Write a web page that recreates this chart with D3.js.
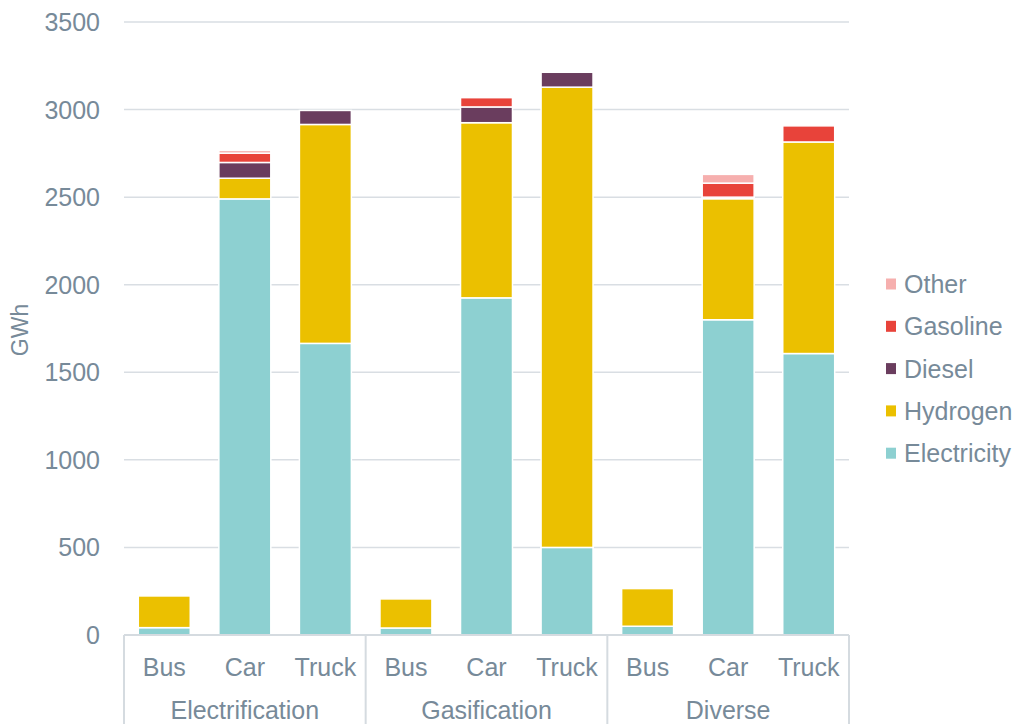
<!DOCTYPE html>
<html>
<head>
<meta charset="utf-8">
<script src="https://cdn.jsdelivr.net/npm/d3@7"></script>
<style>
  body { margin: 0; background: #fff; }
  svg { font-family: "Liberation Sans", Arial, sans-serif; }
  text { fill: #778A99; }
</style>
</head>
<body>
<svg></svg>
<script>
// scenarios and vehicle types
const groups = ["Electrification", "Gasification", "Diverse"];
const types = ["Bus", "Car", "Truck"];

// energy use per bar (GWh), order: group x type
const electricity = [42, 2490, 1665, 40, 1925, 500, 50, 1800, 1607];
const hydrogen = [181, 118, 1250, 166, 1000, 2628, 215, 691, 1208];
const diesel = [0, 90, 80, 0, 90, 85, 0, 9, 0];
const gasoline = [0, 53, 0, 0, 53, 0, 0, 80, 92];
const other = [0, 16, 0, 0, 0, 0, 0, 50, 0];

const yTicks = [0, 500, 1000, 1500, 2000, 2500, 3000, 3500];

const seriesNames = ["Electricity", "Hydrogen", "Diesel", "Gasoline", "Other"];
const colors = ["#8DD0D1", "#EBC000", "#6A3D5E", "#E8433A", "#F6AFAE"];

const rows = [];
groups.forEach((g, gi) => {
	types.forEach((t, ti) => {
		const i = gi * 3 + ti;
		rows.push({
			group: g,
			type: t,
			Electricity: electricity[i],
			Hydrogen: hydrogen[i],
			Diesel: diesel[i],
			Gasoline: gasoline[i],
			Other: other[i]
		});
	});
});

const svg = d3.select("svg").attr("width", 1017).attr("height", 724);

const plotLeft = 124, plotRight = 849, plotTop = 22, plotBottom = 635;

const y = d3.scaleLinear().domain([0, 3500]).range([plotBottom, plotTop]);
const xGroup = d3.scaleBand().domain(groups).range([plotLeft, plotRight]);
const xType = d3
	.scaleBand()
	.domain(types)
	.range([0, xGroup.bandwidth()])
	.paddingInner(0.355)
	.paddingOuter(0.1775);

// gridlines
svg
	.selectAll("line.grid")
	.data(yTicks.filter((d) => d > 0))
	.enter()
	.append("line")
	.attr("class", "grid")
	.attr("x1", plotLeft)
	.attr("x2", plotRight)
	.attr("y1", (d) => y(d))
	.attr("y2", (d) => y(d))
	.attr("stroke", "#D9DEE3")
	.attr("stroke-width", 1.5);

// y tick labels
svg
	.selectAll("text.ytick")
	.data(yTicks)
	.enter()
	.append("text")
	.attr("class", "ytick")
	.attr("x", 100)
	.attr("y", (d) => y(d))
	.attr("dy", "0.36em")
	.attr("text-anchor", "end")
	.attr("font-size", 25)
	.text((d) => d);

svg
	.append("text")
	.attr("transform", `translate(28, 330) rotate(-90)`)
	.attr("text-anchor", "middle")
	.attr("font-size", 23)
	.text("GWh");

// stacked bars
const stack = d3.stack().keys(seriesNames);
const layers = stack(rows);

const layer = svg
	.selectAll("g.layer")
	.data(layers)
	.enter()
	.append("g")
	.attr("class", "layer")
	.attr("fill", (_, i) => colors[i]);

layer
	.selectAll("rect")
	.data((d) => d.filter((s) => s[1] - s[0] > 0))
	.enter()
	.append("rect")
	.attr("x", (d) => xGroup(d.data.group) + xType(d.data.type))
	.attr("width", xType.bandwidth())
	.attr("y", (d) => y(d[1]))
	.attr("height", (d) => y(d[0]) - y(d[1]))
	.attr("stroke", "#fff")
	.attr("stroke-width", 1.5);

// category axis
const axisColor = "#D5DBE0";
svg
	.append("line")
	.attr("x1", plotLeft)
	.attr("x2", plotRight)
	.attr("y1", plotBottom)
	.attr("y2", plotBottom)
	.attr("stroke", axisColor)
	.attr("stroke-width", 2);

const seps = groups.map((g) => xGroup(g)).concat([plotRight]);
svg
	.selectAll("line.sep")
	.data(seps)
	.enter()
	.append("line")
	.attr("class", "sep")
	.attr("x1", (d) => d)
	.attr("x2", (d) => d)
	.attr("y1", plotBottom)
	.attr("y2", 724)
	.attr("stroke", axisColor)
	.attr("stroke-width", 2);

svg
	.selectAll("text.type")
	.data(rows)
	.enter()
	.append("text")
	.attr("class", "type")
	.attr("x", (d) => xGroup(d.group) + xType(d.type) + xType.bandwidth() / 2)
	.attr("y", 676)
	.attr("text-anchor", "middle")
	.attr("font-size", 25)
	.text((d) => d.type);

svg
	.selectAll("text.group")
	.data(groups)
	.enter()
	.append("text")
	.attr("class", "group")
	.attr("x", (d) => xGroup(d) + xGroup.bandwidth() / 2)
	.attr("y", 719)
	.attr("text-anchor", "middle")
	.attr("font-size", 25)
	.text((d) => d);

// legend (top-down: Other ... Electricity)
const legendItems = seriesNames.map((n, i) => ({ name: n, color: colors[i] })).reverse();
const legend = svg
	.selectAll("g.legend")
	.data(legendItems)
	.enter()
	.append("g")
	.attr("class", "legend")
	.attr("transform", (_, i) => `translate(886, ${284 + i * 42.3})`);

legend
	.append("rect")
	.attr("x", 0)
	.attr("y", -5.5)
	.attr("width", 10)
	.attr("height", 11)
	.attr("fill", (d) => d.color);

legend
	.append("text")
	.attr("x", 18)
	.attr("y", 0)
	.attr("dy", "0.36em")
	.attr("font-size", 25)
	.text((d) => d.name);
</script>
</body>
</html>
